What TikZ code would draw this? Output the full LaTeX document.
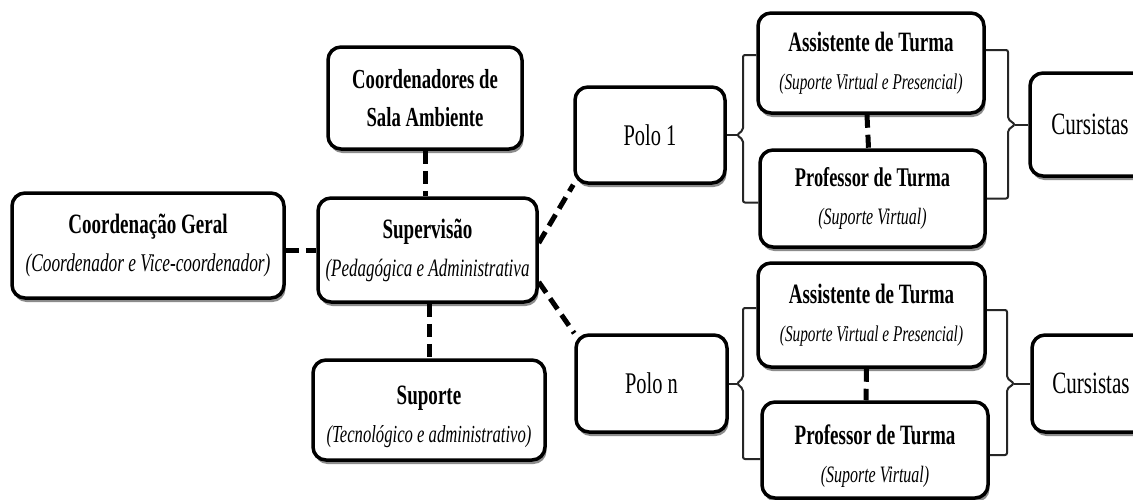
\documentclass[tikz,border=0pt]{standalone}
\usepackage{fontspec}
\newfontfamily\cfont{Liberation Serif}[FakeStretch=0.68]
\usetikzlibrary{shadows,calc}
\newcommand\boxtitle[2]{{\fontsize{#1}{38}\selectfont\bfseries #2}}
\newcommand\boxsub[2]{{\fontsize{#1}{38}\selectfont\itshape #2}}
\newcommand\boxplain[2]{{\fontsize{#1}{38}\selectfont #2}}
\begin{document}
\begin{tikzpicture}[x=1pt,y=-1pt,
  box/.style={draw=black, line width=3.5pt, rounded corners=13pt, fill=white,
    align=center, inner sep=0pt, font={\cfont\fontsize{24}{38}\selectfont},
    drop shadow={shadow xshift=1.5pt, shadow yshift=-4pt, fill=black!45, opacity=1}},
  boxtext/.style={align=center, inner sep=0pt, font={\cfont\fontsize{24}{38}\selectfont}},
  conn/.style={line width=5pt, dash pattern=on 13pt off 7pt},
  brace/.style={draw=black!85, line width=2pt, rounded corners=2pt}]
\clip (0,0) rectangle (1133,499);
\fill[white] (0,0) rectangle (1133,499);

% nodes
\node[box, minimum width=272pt, minimum height=105pt] (cg) at (148,245.5)
  {\boxtitle{28}{Coordenação Geral}\\\boxsub{25.5}{(Coordenador e Vice-coordenador)}};
\node[box, minimum width=194pt, minimum height=102pt] (csa) at (425,98)
  {\boxtitle{27.5}{Coordenadores de}\\\boxtitle{27.5}{Sala Ambiente}};
\node[box, minimum width=219pt, minimum height=104pt] (sup) at (427.5,250)
  {\boxtitle{28}{Supervisão}\\\boxsub{25}{(Pedagógica e Administrativa}};
\node[box, minimum width=232pt, minimum height=100pt] (spt) at (429,410) {};
\node[boxtext] (spttxt) at (429,417)
  {\boxtitle{28}{Suporte}\\\boxsub{24.5}{(Tecnológico e administrativo)}};
\node[box, minimum width=150pt, minimum height=96pt] (p1) at (650,135)
  {\boxplain{30}{Polo 1}};
\node[box, minimum width=151pt, minimum height=97pt] (pn) at (651.5,383.5)
  {\boxplain{30}{Polo n}};
\node[box, minimum width=226pt, minimum height=100pt] (a1) at (871,63)
  {\boxtitle{28}{Assistente de Turma}\\\boxsub{22.5}{(Suporte Virtual e Presencial)}};
\node[box, minimum width=225pt, minimum height=97pt] (t1) at (872.5,198.5)
  {\boxtitle{27}{Professor de Turma}\\\boxsub{23.5}{(Suporte Virtual)}};
\node[box, minimum width=227pt, minimum height=104pt] (a2) at (871.5,315)
  {\boxtitle{28}{Assistente de Turma}\\\boxsub{22.5}{(Suporte Virtual e Presencial)}};
\node[box, minimum width=226pt, minimum height=96pt] (t2) at (875,450) {};
\node[boxtext] (t2txt) at (875,456)
  {\boxtitle{28}{Professor de Turma}\\\boxsub{23.5}{(Suporte Virtual)}};
\node[box, minimum width=120pt, minimum height=103pt] (c1) at (1090,124.5)
  {\boxplain{31}{Cursistas}};
\node[box, minimum width=118pt, minimum height=97pt] (c2) at (1091,383.5)
  {\boxplain{31}{Cursistas}};

% dashed connectors
\draw[conn] (cg.east |- sup.west) -- (sup.west);
\draw[conn] (csa.south) -- (csa.south |- sup.north);
\draw[conn] (spt.north |- sup.south) -- (spt.north);
\draw[conn] ([yshift=7pt]sup.east) -- (p1.south west);
\draw[conn] ([yshift=-32pt]sup.east) -- (pn.north west);
\draw[conn] ([xshift=-4pt]a1.south) -- ([xshift=-4pt]t1.north);
\draw[conn] ([xshift=-5pt]a2.south) -- ([xshift=-9pt]t2.north);

% braces
\coordinate (b1) at (737,135);
\draw[brace] ([yshift=8pt]a1.west) -| (743,130) -- (b1) -- (743,140) |- ([yshift=-4pt]t1.west);
\draw[brace] (b1) -- (p1.east);
\coordinate (b2) at (1015,124.5);
\draw[brace] ([yshift=13pt]a1.east) -| (1008,119) -- (b2) -- (1008,130) |- (t1.east);
\draw[brace] (b2) -- (c1.west);
\coordinate (b3) at (737,383.5);
\draw[brace] ([yshift=7pt]a2.west) -| (743,378) -- (b3) -- (743,389) |- ([yshift=-9pt]t2.west);
\draw[brace] (b3) -- (pn.east);
\coordinate (b4) at (1014,383.5);
\draw[brace] ([yshift=5pt]a2.east) -| (1007,378) -- (b4) -- (1007,389) |- ([yshift=-5pt]t2.east);
\draw[brace] (b4) -- (c2.west);
\end{tikzpicture}
\end{document}
